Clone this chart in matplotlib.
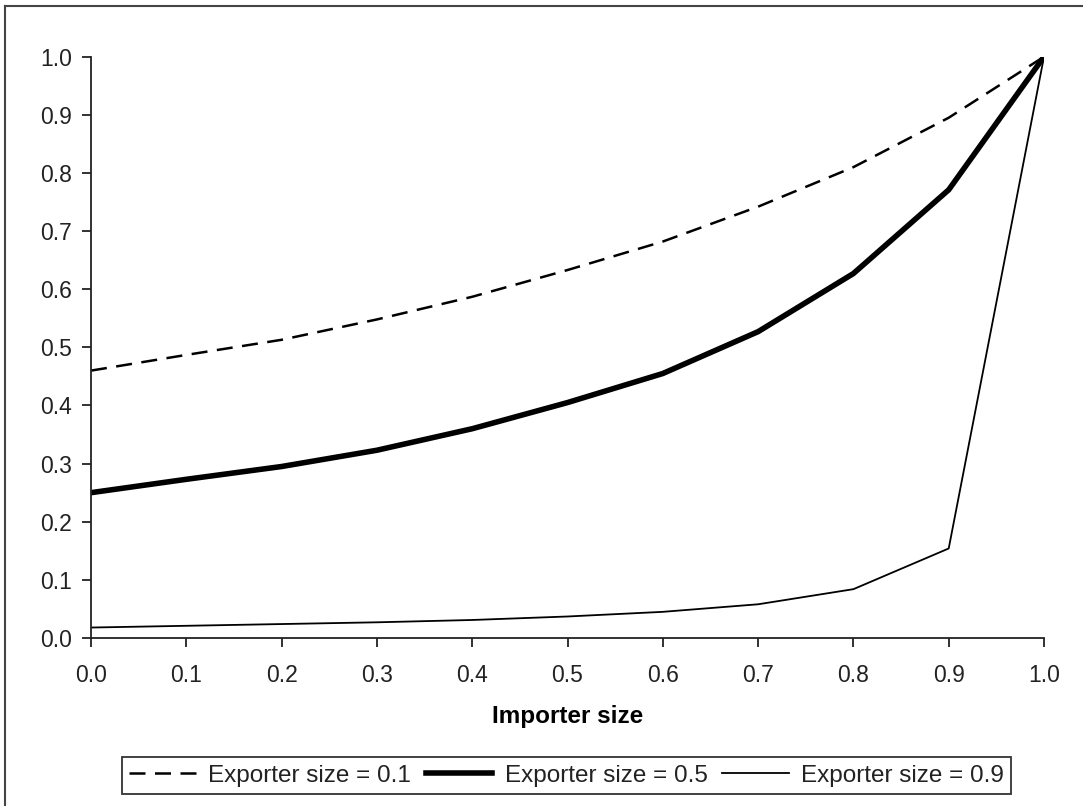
import numpy as np
import matplotlib.pyplot as plt
from matplotlib.lines import Line2D

plt.rcParams['font.family'] = ['Liberation Sans', 'DejaVu Sans']

# === Data ===
importer_size = [0.0, 0.1, 0.2, 0.3, 0.4, 0.5, 0.6, 0.7, 0.8, 0.9, 1.0]
exp_01 = [0.460, 0.487, 0.513, 0.548, 0.587, 0.633, 0.682, 0.742, 0.810, 0.895, 1.0]
exp_05 = [0.250, 0.273, 0.295, 0.323, 0.360, 0.405, 0.455, 0.527, 0.627, 0.771, 1.0]
exp_09 = [0.018, 0.021, 0.024, 0.027, 0.031, 0.037, 0.045, 0.058, 0.084, 0.154, 1.0]
labels = ['Exporter size = 0.1', 'Exporter size = 0.5', 'Exporter size = 0.9']
ticks = np.round(np.arange(0, 1.01, 0.1), 1)

txt = '#222222'

fig = plt.figure(figsize=(10.83, 8.06), dpi=100)
ax = fig.add_axes([91 / 1083, 1 - 638 / 806, (1044 - 91) / 1083, (638 - 56.7) / 806])

ax.plot(importer_size, exp_01, color='black', lw=1.8, dashes=(6.4, 3.8), label=labels[0])
ax.plot(importer_size, exp_05, color='black', lw=4.0, label=labels[1])
ax.plot(importer_size, exp_09, color='black', lw=1.3, label=labels[2])

ax.set_xlim(0, 1)
ax.set_ylim(0, 1)
ax.set_xticks(ticks)
ax.set_yticks(ticks)
ax.set_xticklabels([f"{t:.1f}" for t in ticks])
ax.set_yticklabels([f"{t:.1f}" for t in ticks])
ax.tick_params(axis='both', length=6.5, width=1.3, color='#222222', labelsize=16.5, labelcolor=txt)
ax.tick_params(axis='x', pad=12)
ax.tick_params(axis='y', pad=7)
for s in ['top', 'right']:
    ax.spines[s].set_visible(False)
for s in ['left', 'bottom']:
    ax.spines[s].set_linewidth(1.3)
    ax.spines[s].set_color('#222222')

ax.set_xlabel('Importer size', fontsize=17.5, fontweight='bold', color='black', labelpad=13)

leg = fig.legend(loc='center', bbox_to_anchor=(566.5 / 1083, 1 - 775.5 / 806), ncol=3,
                 fontsize=17.5, frameon=True, fancybox=False, edgecolor='black',
                 handlelength=2.75, handletextpad=0.5, columnspacing=0.6, borderpad=0.3)
leg.get_frame().set_linewidth(1.3)
for t in leg.get_texts():
    t.set_color(txt)

# outer frame (only top and left edges fall inside the image)
fig.add_artist(Line2D([5 / 1083, 5 / 1083], [0, 1 - 6 / 806], transform=fig.transFigure,
                      color='#444444', lw=1.5))
fig.add_artist(Line2D([5 / 1083, 1], [1 - 6 / 806, 1 - 6 / 806], transform=fig.transFigure,
                      color='#444444', lw=1.5))

fig.savefig('out.png', dpi=100)
